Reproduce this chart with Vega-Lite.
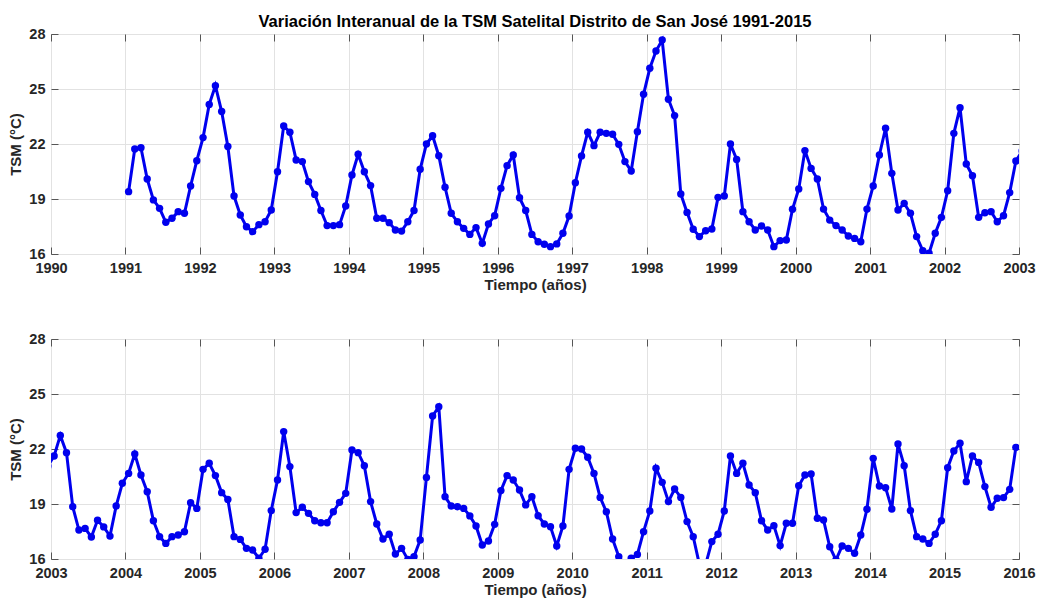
{
  "$schema": "https://vega.github.io/schema/vega-lite/v6.json",
  "padding": {"left": 8, "top": 13, "right": 5, "bottom": 2},
  "background": "white",
  "data": {"values": [
    {"t":1991.042,"v":19.40},{"t":1991.125,"v":21.73},{"t":1991.208,"v":21.80},{"t":1991.292,"v":20.09},{"t":1991.375,"v":18.95},{"t":1991.458,"v":18.49},{"t":1991.542,"v":17.73},{"t":1991.625,"v":17.95},{"t":1991.708,"v":18.31},{"t":1991.792,"v":18.22},{"t":1991.875,"v":19.71},{"t":1991.958,"v":21.09},
    {"t":1992.042,"v":22.35},{"t":1992.125,"v":24.16},{"t":1992.208,"v":25.18},{"t":1992.292,"v":23.77},{"t":1992.375,"v":21.86},{"t":1992.458,"v":19.16},{"t":1992.542,"v":18.13},{"t":1992.625,"v":17.49},{"t":1992.708,"v":17.22},{"t":1992.792,"v":17.60},{"t":1992.875,"v":17.76},{"t":1992.958,"v":18.40},
    {"t":1993.042,"v":20.49},{"t":1993.125,"v":22.98},{"t":1993.208,"v":22.64},{"t":1993.292,"v":21.13},{"t":1993.375,"v":21.04},{"t":1993.458,"v":19.95},{"t":1993.542,"v":19.25},{"t":1993.625,"v":18.37},{"t":1993.708,"v":17.55},{"t":1993.792,"v":17.55},{"t":1993.875,"v":17.60},{"t":1993.958,"v":18.62},
    {"t":1994.042,"v":20.31},{"t":1994.125,"v":21.44},{"t":1994.208,"v":20.49},{"t":1994.292,"v":19.73},{"t":1994.375,"v":17.95},{"t":1994.458,"v":17.95},{"t":1994.542,"v":17.71},{"t":1994.625,"v":17.31},{"t":1994.708,"v":17.25},{"t":1994.792,"v":17.76},{"t":1994.875,"v":18.37},{"t":1994.958,"v":20.62},
    {"t":1995.042,"v":22.00},{"t":1995.125,"v":22.45},{"t":1995.208,"v":21.36},{"t":1995.292,"v":19.64},{"t":1995.375,"v":18.22},{"t":1995.458,"v":17.76},{"t":1995.542,"v":17.40},{"t":1995.625,"v":17.07},{"t":1995.708,"v":17.44},{"t":1995.792,"v":16.58},{"t":1995.875,"v":17.64},{"t":1995.958,"v":18.09},
    {"t":1996.042,"v":19.58},{"t":1996.125,"v":20.82},{"t":1996.208,"v":21.40},{"t":1996.292,"v":19.07},{"t":1996.375,"v":18.37},{"t":1996.458,"v":17.07},{"t":1996.542,"v":16.67},{"t":1996.625,"v":16.53},{"t":1996.708,"v":16.40},{"t":1996.792,"v":16.55},{"t":1996.875,"v":17.13},{"t":1996.958,"v":18.07},
    {"t":1997.042,"v":19.89},{"t":1997.125,"v":21.35},{"t":1997.208,"v":22.64},{"t":1997.292,"v":21.91},{"t":1997.375,"v":22.64},{"t":1997.458,"v":22.58},{"t":1997.542,"v":22.53},{"t":1997.625,"v":21.98},{"t":1997.708,"v":21.04},{"t":1997.792,"v":20.53},{"t":1997.875,"v":22.67},{"t":1997.958,"v":24.71},
    {"t":1998.042,"v":26.13},{"t":1998.125,"v":27.07},{"t":1998.208,"v":27.67},{"t":1998.292,"v":24.44},{"t":1998.375,"v":23.55},{"t":1998.458,"v":19.27},{"t":1998.542,"v":18.27},{"t":1998.625,"v":17.35},{"t":1998.708,"v":16.95},{"t":1998.792,"v":17.27},{"t":1998.875,"v":17.36},{"t":1998.958,"v":19.09},
    {"t":1999.042,"v":19.16},{"t":1999.125,"v":22.00},{"t":1999.208,"v":21.16},{"t":1999.292,"v":18.31},{"t":1999.375,"v":17.76},{"t":1999.458,"v":17.31},{"t":1999.542,"v":17.53},{"t":1999.625,"v":17.31},{"t":1999.708,"v":16.40},{"t":1999.792,"v":16.73},{"t":1999.875,"v":16.76},{"t":1999.958,"v":18.44},
    {"t":2000.042,"v":19.55},{"t":2000.125,"v":21.64},{"t":2000.208,"v":20.67},{"t":2000.292,"v":20.09},{"t":2000.375,"v":18.45},{"t":2000.458,"v":17.85},{"t":2000.542,"v":17.55},{"t":2000.625,"v":17.31},{"t":2000.708,"v":16.98},{"t":2000.792,"v":16.85},{"t":2000.875,"v":16.67},{"t":2000.958,"v":18.45},
    {"t":2001.042,"v":19.71},{"t":2001.125,"v":21.40},{"t":2001.208,"v":22.86},{"t":2001.292,"v":20.40},{"t":2001.375,"v":18.40},{"t":2001.458,"v":18.76},{"t":2001.542,"v":18.22},{"t":2001.625,"v":16.95},{"t":2001.708,"v":16.18},{"t":2001.792,"v":16.04},{"t":2001.875,"v":17.13},{"t":2001.958,"v":18.00},
    {"t":2002.042,"v":19.45},{"t":2002.125,"v":22.58},{"t":2002.208,"v":23.98},{"t":2002.292,"v":20.91},{"t":2002.375,"v":20.27},{"t":2002.458,"v":18.00},{"t":2002.542,"v":18.25},{"t":2002.625,"v":18.31},{"t":2002.708,"v":17.76},{"t":2002.792,"v":18.09},{"t":2002.875,"v":19.35},{"t":2002.958,"v":21.07},
    {"t":2003.042,"v":21.62},{"t":2003.125,"v":22.74},{"t":2003.208,"v":21.80},{"t":2003.292,"v":18.85},{"t":2003.375,"v":17.58},{"t":2003.458,"v":17.67},{"t":2003.542,"v":17.20},{"t":2003.625,"v":18.11},{"t":2003.708,"v":17.75},{"t":2003.792,"v":17.25},{"t":2003.875,"v":18.89},{"t":2003.958,"v":20.13},
    {"t":2004.042,"v":20.67},{"t":2004.125,"v":21.73},{"t":2004.208,"v":20.58},{"t":2004.292,"v":19.67},{"t":2004.375,"v":18.09},{"t":2004.458,"v":17.22},{"t":2004.542,"v":16.85},{"t":2004.625,"v":17.22},{"t":2004.708,"v":17.31},{"t":2004.792,"v":17.49},{"t":2004.875,"v":19.07},{"t":2004.958,"v":18.76},
    {"t":2005.042,"v":20.89},{"t":2005.125,"v":21.22},{"t":2005.208,"v":20.55},{"t":2005.292,"v":19.62},{"t":2005.375,"v":19.25},{"t":2005.458,"v":17.22},{"t":2005.542,"v":17.07},{"t":2005.625,"v":16.58},{"t":2005.708,"v":16.49},{"t":2005.792,"v":16.04},{"t":2005.875,"v":16.53},{"t":2005.958,"v":18.64},
    {"t":2006.042,"v":20.31},{"t":2006.125,"v":22.95},{"t":2006.208,"v":21.04},{"t":2006.292,"v":18.53},{"t":2006.375,"v":18.82},{"t":2006.458,"v":18.49},{"t":2006.542,"v":18.09},{"t":2006.625,"v":17.98},{"t":2006.708,"v":17.98},{"t":2006.792,"v":18.58},{"t":2006.875,"v":19.09},{"t":2006.958,"v":19.58},
    {"t":2007.042,"v":21.95},{"t":2007.125,"v":21.80},{"t":2007.208,"v":21.09},{"t":2007.292,"v":19.13},{"t":2007.375,"v":17.91},{"t":2007.458,"v":17.09},{"t":2007.542,"v":17.35},{"t":2007.625,"v":16.27},{"t":2007.708,"v":16.58},{"t":2007.792,"v":15.98},{"t":2007.875,"v":16.13},{"t":2007.958,"v":17.04},
    {"t":2008.042,"v":20.45},{"t":2008.125,"v":23.80},{"t":2008.208,"v":24.31},{"t":2008.292,"v":19.40},{"t":2008.375,"v":18.89},{"t":2008.458,"v":18.85},{"t":2008.542,"v":18.76},{"t":2008.625,"v":18.35},{"t":2008.708,"v":17.80},{"t":2008.792,"v":16.76},{"t":2008.875,"v":16.98},{"t":2008.958,"v":17.89},
    {"t":2009.042,"v":19.73},{"t":2009.125,"v":20.55},{"t":2009.208,"v":20.31},{"t":2009.292,"v":19.76},{"t":2009.375,"v":18.95},{"t":2009.458,"v":19.40},{"t":2009.542,"v":18.36},{"t":2009.625,"v":17.91},{"t":2009.708,"v":17.76},{"t":2009.792,"v":16.71},{"t":2009.875,"v":17.80},{"t":2009.958,"v":20.89},
    {"t":2010.042,"v":22.04},{"t":2010.125,"v":22.00},{"t":2010.208,"v":21.55},{"t":2010.292,"v":20.67},{"t":2010.375,"v":19.36},{"t":2010.458,"v":18.58},{"t":2010.542,"v":17.09},{"t":2010.625,"v":16.13},{"t":2010.708,"v":15.70},{"t":2010.792,"v":16.05},{"t":2010.875,"v":16.25},{"t":2010.958,"v":17.49},
    {"t":2011.042,"v":18.62},{"t":2011.125,"v":20.95},{"t":2011.208,"v":20.18},{"t":2011.292,"v":19.13},{"t":2011.375,"v":19.82},{"t":2011.458,"v":19.36},{"t":2011.542,"v":18.04},{"t":2011.625,"v":17.22},{"t":2011.708,"v":15.70},{"t":2011.792,"v":15.70},{"t":2011.875,"v":16.95},{"t":2011.958,"v":17.35},
    {"t":2012.042,"v":18.62},{"t":2012.125,"v":21.62},{"t":2012.208,"v":20.67},{"t":2012.292,"v":21.22},{"t":2012.375,"v":20.04},{"t":2012.458,"v":19.62},{"t":2012.542,"v":18.09},{"t":2012.625,"v":17.58},{"t":2012.708,"v":17.82},{"t":2012.792,"v":16.73},{"t":2012.875,"v":17.95},{"t":2012.958,"v":17.95},
    {"t":2013.042,"v":20.00},{"t":2013.125,"v":20.58},{"t":2013.208,"v":20.64},{"t":2013.292,"v":18.22},{"t":2013.375,"v":18.13},{"t":2013.458,"v":16.67},{"t":2013.542,"v":15.95},{"t":2013.625,"v":16.71},{"t":2013.708,"v":16.58},{"t":2013.792,"v":16.31},{"t":2013.875,"v":17.31},{"t":2013.958,"v":18.71},
    {"t":2014.042,"v":21.49},{"t":2014.125,"v":19.98},{"t":2014.208,"v":19.89},{"t":2014.292,"v":18.73},{"t":2014.375,"v":22.27},{"t":2014.458,"v":21.09},{"t":2014.542,"v":18.64},{"t":2014.625,"v":17.22},{"t":2014.708,"v":17.09},{"t":2014.792,"v":16.85},{"t":2014.875,"v":17.35},{"t":2014.958,"v":18.09},
    {"t":2015.042,"v":20.98},{"t":2015.125,"v":21.89},{"t":2015.208,"v":22.31},{"t":2015.292,"v":20.22},{"t":2015.375,"v":21.62},{"t":2015.458,"v":21.27},{"t":2015.542,"v":19.95},{"t":2015.625,"v":18.82},{"t":2015.708,"v":19.31},{"t":2015.792,"v":19.35},{"t":2015.875,"v":19.80},{"t":2015.958,"v":22.09}
  ]},
  "spacing": 37,
  "vconcat": [
    {
      "width": 968,
      "height": 220,
      "title": {"text": "Variación Interanual de la TSM Satelital Distrito de San José 1991-2015", "frame": "group", "anchor": "middle", "fontSize": 16.5, "fontWeight": "bold", "font": "Liberation Sans", "color": "#000000", "offset": -4},
      "resolve": {"axis": {"x": "independent", "y": "independent"}},
      "layer": [
        {
          "mark": {"type": "line", "color": "#0000ee", "strokeWidth": 3, "clip": true},
          "encoding": {
            "x": {"field": "t", "type": "quantitative", "scale": {"domain": [1990, 2003], "nice": false, "zero": false},
                  "axis": {"values": [1990,1991,1992,1993,1994,1995,1996,1997,1998,1999,2000,2001,2002,2003], "format": "d", "title": "Tiempo (años)", "grid": true, "ticks": false, "domain": false, "labelFlush": false, "labelPadding": 7, "titlePadding": 3}},
            "y": {"field": "v", "type": "quantitative", "scale": {"domain": [16, 28], "nice": false, "zero": false},
                  "axis": {"values": [16,19,22,25,28], "title": "TSM (°C)", "grid": true, "ticks": false, "domain": false, "labelPadding": 6, "titlePadding": 5}}
          }
        },
        {
          "mark": {"type": "point", "filled": true, "size": 55, "color": "#0000ee", "opacity": 1, "clip": true},
          "encoding": {
            "x": {"field": "t", "type": "quantitative", "axis": null},
            "y": {"field": "v", "type": "quantitative", "axis": null}
          }
        },
        {
          "mark": {"type": "line", "opacity": 0, "clip": true},
          "encoding": {
            "x": {"field": "t", "type": "quantitative", "axis": {"orient": "top", "values": [1990,1991,1992,1993,1994,1995,1996,1997,1998,1999,2000,2001,2002,2003], "labels": false, "grid": false, "domain": false, "ticks": true, "tickSize": -7, "title": null}},
            "y": {"field": "v", "type": "quantitative", "axis": {"orient": "right", "values": [16,19,22,25,28], "labels": false, "grid": false, "domain": false, "ticks": true, "tickSize": -7, "title": null}}
          }
        },
        {
          "mark": {"type": "line", "opacity": 0, "clip": true},
          "encoding": {
            "x": {"field": "t", "type": "quantitative", "axis": {"orient": "bottom", "values": [1990,1991,1992,1993,1994,1995,1996,1997,1998,1999,2000,2001,2002,2003], "labels": false, "grid": false, "domain": false, "ticks": true, "tickSize": -7, "title": null}},
            "y": {"field": "v", "type": "quantitative", "axis": {"orient": "left", "values": [16,19,22,25,28], "labels": false, "grid": false, "domain": false, "ticks": true, "tickSize": -7, "title": null}}
          }
        }
      ]
    },
    {
      "width": 968,
      "height": 220,
      "resolve": {"axis": {"x": "independent", "y": "independent"}},
      "layer": [
        {
          "mark": {"type": "line", "color": "#0000ee", "strokeWidth": 3, "clip": true},
          "encoding": {
            "x": {"field": "t", "type": "quantitative", "scale": {"domain": [2003, 2016], "nice": false, "zero": false},
                  "axis": {"values": [2003,2004,2005,2006,2007,2008,2009,2010,2011,2012,2013,2014,2015,2016], "format": "d", "title": "Tiempo (años)", "grid": true, "ticks": false, "domain": false, "labelFlush": false, "labelPadding": 7, "titlePadding": 3}},
            "y": {"field": "v", "type": "quantitative", "scale": {"domain": [16, 28], "nice": false, "zero": false},
                  "axis": {"values": [16,19,22,25,28], "title": "TSM (°C)", "grid": true, "ticks": false, "domain": false, "labelPadding": 6, "titlePadding": 5}}
          }
        },
        {
          "mark": {"type": "point", "filled": true, "size": 55, "color": "#0000ee", "opacity": 1, "clip": true},
          "encoding": {
            "x": {"field": "t", "type": "quantitative", "axis": null},
            "y": {"field": "v", "type": "quantitative", "axis": null}
          }
        },
        {
          "mark": {"type": "line", "opacity": 0, "clip": true},
          "encoding": {
            "x": {"field": "t", "type": "quantitative", "axis": {"orient": "top", "values": [2003,2004,2005,2006,2007,2008,2009,2010,2011,2012,2013,2014,2015,2016], "labels": false, "grid": false, "domain": false, "ticks": true, "tickSize": -7, "title": null}},
            "y": {"field": "v", "type": "quantitative", "axis": {"orient": "right", "values": [16,19,22,25,28], "labels": false, "grid": false, "domain": false, "ticks": true, "tickSize": -7, "title": null}}
          }
        },
        {
          "mark": {"type": "line", "opacity": 0, "clip": true},
          "encoding": {
            "x": {"field": "t", "type": "quantitative", "axis": {"orient": "bottom", "values": [2003,2004,2005,2006,2007,2008,2009,2010,2011,2012,2013,2014,2015,2016], "labels": false, "grid": false, "domain": false, "ticks": true, "tickSize": -7, "title": null}},
            "y": {"field": "v", "type": "quantitative", "axis": {"orient": "left", "values": [16,19,22,25,28], "labels": false, "grid": false, "domain": false, "ticks": true, "tickSize": -7, "title": null}}
          }
        }
      ]
    }
  ],
  "config": {
    "font": "Liberation Sans",
    "view": {"stroke": "#707070", "strokeWidth": 1},
    "axis": {
      "labelFont": "Liberation Sans", "labelFontSize": 14.5, "labelFontWeight": "bold", "labelColor": "#262626",
      "titleFont": "Liberation Sans", "titleFontSize": 15, "titleFontWeight": "bold", "titleColor": "#262626",
      "gridColor": "#e2e2e2", "gridWidth": 1, "tickColor": "#555555", "tickWidth": 1
    }
  }
}
